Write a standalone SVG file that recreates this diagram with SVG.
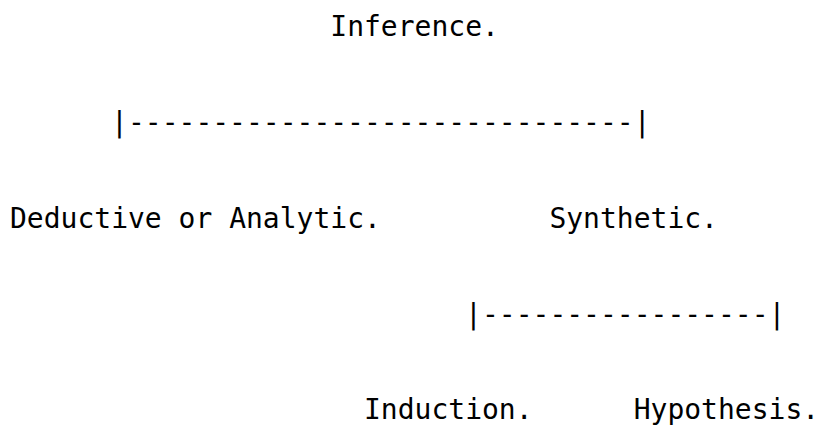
<svg xmlns="http://www.w3.org/2000/svg" width="818" height="426" viewBox="0 0 818 426">
<style>
text{font-family:"DejaVu Sans Mono","Liberation Mono",monospace;font-size:28px;fill:#000;white-space:pre}
</style>
<rect width="818" height="426" fill="#fff"/>
<g id="node-inference"><text x="330.3" y="36">Inference.</text></g>
<g id="connectors">
<text x="111.1" y="132">|------------------------------|</text>
<text x="465.1" y="324">|-----------------|</text>
</g>
<g id="node-deductive"><text x="10" y="228">Deductive or Analytic.</text></g>
<g id="node-synthetic"><text x="549.4" y="228">Synthetic.</text></g>
<g id="node-induction"><text x="364" y="419">Induction.</text></g>
<g id="node-hypothesis"><text x="633.7" y="419">Hypothesis.</text></g>
</svg>
